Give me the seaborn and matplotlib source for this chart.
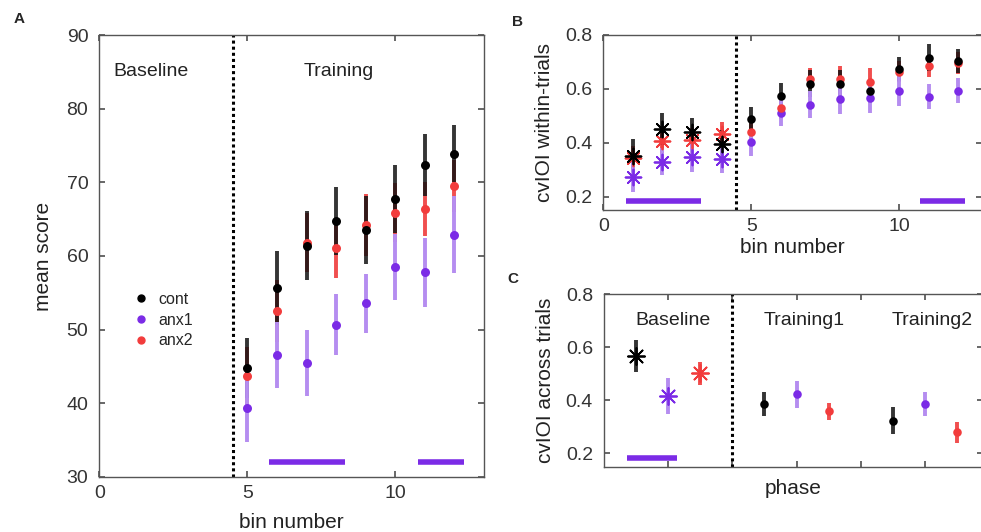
import numpy as np
import pandas as pd
import matplotlib
matplotlib.use("Agg")
import matplotlib.pyplot as plt
import seaborn as sns

# ---- data -------------------------------------------------------------
groups = ["cont", "anx1", "anx2"]
colors = {"cont": "#000000", "anx1": "#7B2BE6", "anx2": "#F23C3C"}
bar_colors = {"cont": "#111111", "anx1": "#B58DF0", "anx2": "#F04545"}
bar_alpha = {"cont": 0.85, "anx1": 1.0, "anx2": 0.95}

# A: mean score per training bin
a_bins = [5, 6, 7, 8, 9, 10, 11, 12]
a_cont = [44.8, 55.7, 61.4, 64.8, 63.5, 67.7, 72.3, 73.9]
a_cont_err = [4.1, 5.0, 4.7, 4.6, 4.6, 4.6, 4.2, 3.9]
a_anx1 = [39.4, 46.6, 45.5, 50.7, 53.6, 58.5, 57.8, 62.9]
a_anx1_err = [4.6, 4.5, 4.5, 4.1, 4.0, 4.5, 4.7, 5.2]
a_anx2 = [43.7, 52.5, 61.8, 61.1, 64.2, 65.9, 66.4, 69.5]
a_anx2_err = [4.0, 4.2, 4.0, 4.1, 4.2, 4.0, 3.7, 3.5]
a_sig = [(5.74, 8.3), (10.76, 12.31)]
a_sig_y = 32

# B: cvIOI within trials per bin (bins 1-4 baseline, 5-12 training)
b_bins = [1, 2, 3, 4, 5, 6, 7, 8, 9, 10, 11, 12]
b_cont = [0.352, 0.450, 0.440, 0.396, 0.487, 0.574, 0.618, 0.618, 0.592, 0.673, 0.716, 0.704]
b_cont_err = [0.06, 0.06, 0.05, 0.05, 0.045, 0.047, 0.05, 0.05, 0.045, 0.045, 0.05, 0.045]
b_anx1 = [0.272, 0.330, 0.346, 0.339, 0.402, 0.512, 0.540, 0.561, 0.566, 0.593, 0.571, 0.593]
b_anx1_err = [0.055, 0.05, 0.055, 0.05, 0.05, 0.05, 0.05, 0.055, 0.055, 0.055, 0.045, 0.047]
b_anx2 = [0.342, 0.408, 0.410, 0.431, 0.438, 0.528, 0.638, 0.638, 0.627, 0.664, 0.685, 0.695]
b_anx2_err = [0.045, 0.045, 0.045, 0.047, 0.04, 0.04, 0.04, 0.048, 0.05, 0.04, 0.04, 0.04]
b_sig = [(0.76, 3.29), (10.72, 12.24)]
b_sig_y = 0.182

# C: cvIOI across trials per phase
phases = ["Baseline", "Training1", "Training2"]
phase_pos = [1, 3, 5]
group_offset = {"cont": -0.5, "anx1": 0.0, "anx2": 0.5}
c_cont = [0.567, 0.386, 0.323]
c_cont_err = [0.06, 0.045, 0.05]
c_anx1 = [0.416, 0.422, 0.386]
c_anx1_err = [0.068, 0.05, 0.045]
c_anx2 = [0.501, 0.359, 0.279]
c_anx2_err = [0.042, 0.032, 0.04]
c_sig = [(0.36, 1.14)]
c_sig_y = 0.181


def long_frame(x, series):
    rows = []
    for g, (m, e) in series.items():
        for xi, mi, ei in zip(x[g] if isinstance(x, dict) else x, m, e):
            rows.append({"x": xi, "mean": mi, "err": ei, "group": g})
    return pd.DataFrame(rows)


df_a = long_frame(a_bins, {"cont": (a_cont, a_cont_err),
                           "anx1": (a_anx1, a_anx1_err),
                           "anx2": (a_anx2, a_anx2_err)})
df_b = long_frame(b_bins, {"cont": (b_cont, b_cont_err),
                           "anx1": (b_anx1, b_anx1_err),
                           "anx2": (b_anx2, b_anx2_err)})
df_b["phase"] = np.where(df_b["x"] <= 4, "baseline", "training")
c_x = {g: [p + group_offset[g] for p in phase_pos] for g in groups}
df_c = long_frame(c_x, {"cont": (c_cont, c_cont_err),
                        "anx1": (c_anx1, c_anx1_err),
                        "anx2": (c_anx2, c_anx2_err)})
df_c["phase"] = np.repeat([phases], 3, axis=0).ravel()

# ---- style --------------------------------------------------------------
sns.set_theme(style="ticks")
plt.rcParams["font.family"] = ["Liberation Sans", "DejaVu Sans"]
plt.rcParams.update({
    "axes.edgecolor": "#555555",
    "axes.linewidth": 1.0,
    "xtick.direction": "in",
    "ytick.direction": "in",
    "xtick.top": True,
    "ytick.right": True,
    "xtick.color": "#555555",
    "ytick.color": "#555555",
    "xtick.labelcolor": "#333333",
    "ytick.labelcolor": "#333333",
    "xtick.major.size": 4,
    "ytick.major.size": 4,
    "xtick.major.pad": 6,
    "ytick.major.pad": 8,
    "xtick.labelsize": 14,
    "ytick.labelsize": 14,
    "axes.labelsize": 15,
    "axes.labelcolor": "#222222",
})

star = (8, 2, 0)

fig = plt.figure(figsize=(9.81, 5.32), dpi=100)
ax_a = fig.add_axes([0.1014, 0.1034, 0.392, 0.8308])
ax_b = fig.add_axes([0.615, 0.6053, 0.386, 0.329])
ax_c = fig.add_axes([0.6157, 0.1229, 0.386, 0.3244])


def draw_errbars(ax, df):
    # red underneath, black over it, light purple on top
    for z, g in enumerate(["anx2", "cont", "anx1"]):
        d = df[df["group"] == g]
        ax.vlines(d["x"], d["mean"] - d["err"], d["mean"] + d["err"],
                  colors=bar_colors[g], alpha=bar_alpha[g], linewidth=2.8,
                  zorder=2 + z)


def draw_points(ax, df, marker, size, lw=0.0):
    for z, g in enumerate(["anx1", "anx2", "cont"]):
        d = df[df["group"] == g]
        if d.empty:
            continue
        sns.scatterplot(data=d, x="x", y="mean", color=colors[g],
                        marker=marker, s=size, linewidth=lw,
                        edgecolor=colors[g] if lw else None,
                        ax=ax, zorder=6 + z, legend=False)


def draw_sig(ax, spans, y):
    for x0, x1 in spans:
        ax.plot([x0, x1], [y, y], color="#7B2BE6", linewidth=4.0,
                solid_capstyle="butt", zorder=1)


# ---- A ------------------------------------------------------------------
draw_errbars(ax_a, df_a)
draw_points(ax_a, df_a, "o", 42)
draw_sig(ax_a, a_sig, a_sig_y)
ax_a.axvline(4.5, color="black", linestyle=(0, (1, 1)), linewidth=2.2, zorder=1)
ax_a.set_xlim(0, 13)
ax_a.set_ylim(30, 90)
ax_a.set_xticks([0, 5, 10])
ax_a.set_yticks(range(30, 91, 10))
ax_a.set_xlabel("bin number", labelpad=8)
ax_a.set_ylabel("mean score", labelpad=10)
ax_a.text(1.75, 85, "Baseline", ha="center", va="center", fontsize=14, color="#222222")
ax_a.text(8.1, 85, "Training", ha="center", va="center", fontsize=14, color="#222222")
handles = [plt.Line2D([], [], linestyle="none", marker="o", markersize=5,
                      color=colors[g]) for g in groups]
ax_a.legend(handles, groups, loc="center left", bbox_to_anchor=(0.05, 0.355),
            frameon=False, fontsize=11.5, handletextpad=0.6, labelspacing=0.35,
            handlelength=1.0)

# ---- B ------------------------------------------------------------------
draw_errbars(ax_b, df_b)
draw_points(ax_b, df_b[df_b["phase"] == "baseline"], star, 130, lw=1.3)
draw_points(ax_b, df_b[df_b["phase"] == "training"], "o", 38)
draw_sig(ax_b, b_sig, b_sig_y)
ax_b.axvline(4.5, color="black", linestyle=(0, (1, 1)), linewidth=2.2, zorder=1)
ax_b.set_xlim(0, 12.8)
ax_b.set_ylim(0.15, 0.8)
ax_b.set_xticks([0, 5, 10])
ax_b.set_yticks([0.2, 0.4, 0.6, 0.8])
ax_b.set_xlabel("bin number", labelpad=2)
ax_b.set_ylabel("cvIOI within-trials", labelpad=8)

# ---- C ------------------------------------------------------------------
draw_errbars(ax_c, df_c)
draw_points(ax_c, df_c[df_c["phase"] == "Baseline"], star, 150, lw=1.3)
draw_points(ax_c, df_c[df_c["phase"] != "Baseline"], "o", 38)
draw_sig(ax_c, c_sig, c_sig_y)
ax_c.axvline(2, color="black", linestyle=(0, (1, 1)), linewidth=2.2, zorder=1)
ax_c.set_xlim(0, 5.9)
ax_c.set_ylim(0.15, 0.8)
ax_c.set_xticks([1, 2, 3, 4, 5])
ax_c.set_xticklabels([])
ax_c.set_yticks([0.2, 0.4, 0.6, 0.8])
ax_c.set_xlabel("phase", labelpad=3)
ax_c.set_ylabel("cvIOI across trials", labelpad=8)
for name, xt in zip(phases, [1.08, 3.12, 5.12]):
    ax_c.text(xt, 0.70, name, ha="center", va="center", fontsize=14, color="#222222")

for ax in (ax_a, ax_b, ax_c):
    for s in ax.spines.values():
        s.set_visible(True)

# panel letters
fig.text(0.014, 0.965, "A", fontsize=11, fontweight="bold", ha="left", va="center")
fig.text(0.522, 0.958, "B", fontsize=11, fontweight="bold", ha="left", va="center")
fig.text(0.523, 0.475, "C", fontsize=11, fontweight="bold", ha="center", va="center")

fig.savefig("out.png", dpi=100)
